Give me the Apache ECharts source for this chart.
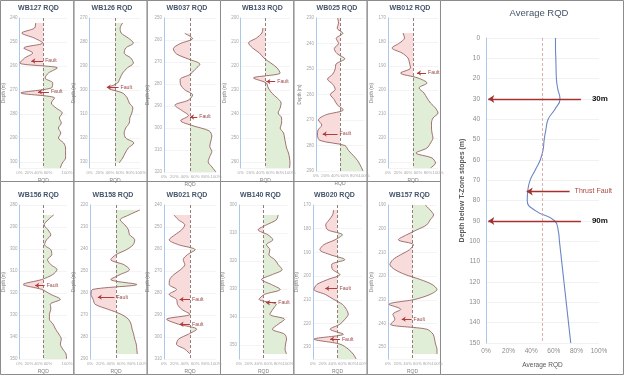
<!DOCTYPE html>
<html>
<head>
<meta charset="utf-8">
<script src="https://cdn.jsdelivr.net/npm/echarts@6/dist/echarts.min.js"></script>
<style>
html, body { margin: 0; padding: 0; background: #fff; }
#chartRqd { width: 624px; height: 375px; }
</style>
</head>
<body>
<div id="chartRqd"></div>
<script>
// ---- data ----
var wells = ['WB127', 'WB126', 'WB037', 'WB133', 'WB025', 'WB012',
             'WB156', 'WB158', 'WB021', 'WB140', 'WB020', 'WB157'];
var depthTop    = [240, 270, 250, 200, 230, 170, 280, 220, 240, 300, 170, 190];
var depthBottom = [302.5, 332.5, 320, 262.5, 290, 232.5, 350, 290, 310, 355, 235, 255];
var depthStep = 10;

// RQD (%) at evenly spaced depths from depthTop to depthBottom (null = no core)
var rqdWB127 = [null, 34, 32, 5, 31, 49, 9, 28, 11, 1, 80, 61, 54, 70, 67, 3, 74, 67, 77, 90, 84, 88, 82, 87, 82, 93, 97, 97, 97, 90, 86];
var rqdWB126 = [null, 65, 60, 62, 76, 86, 71, 68, 81, 86, 74, 65, 60, 55, 37, 65, 74, 78, 85, 83, 79, 78, 71, 68, 71, 87, 76, 70, 65, 58, null];
var rqdWB037 = [null, null, null, 40, 55, 31, 18, 24, 47, 69, 60, 50, 31, 32, 40, 55, 47, 21, 34, 47, 32, 56, 87, 92, 90, 88, 92, 88, 85, 92, 100];
var rqdWB133 = [null, null, 45, 43, 32, 16, 24, 38, 47, 61, 74, 80, 26, 52, 56, 63, 74, 82, 80, 76, 83, 83, 80, 87, 89, 91, 93, 97, 99, 100, 99];
var rqdWB025 = [45, 47, 44, 56, 42, 47, 38, 44, 60, 42, 40, 35, 24, 35, 40, 30, 38, 44, 57, 20, 5, 12, 4, 3, 8, 60, 68, 78, 87, 93, 98];
var rqdWB012 = [null, null, null, 30, 33, 23, 8, 28, 40, 43, 45, 25, 60, 78, 62, 72, 78, 85, 95, 100, 90, 87, 87, 88, 90, 85, 78, 56, 88, 95, 85];
var rqdWB156 = [null, null, 72, 60, 52, 60, 66, 57, 53, 66, 68, 59, 66, 79, 70, 47, 8, 47, 66, 86, 65, 66, 63, 63, 71, 76, 83, 88, 86, 91, 98, 99];
var rqdWB158 = [null, 96, 75, 58, 67, 74, 76, 86, 83, 70, 50, 40, 65, 76, 58, 40, 90, 5, 2, 6, 10, 35, 60, 74, 79, 81, 84, 86, 89, 90, 91, null];
var rqdWB021 = [null, null, 19, 28, 40, 34, 21, 10, 28, 60, 45, 37, 40, 32, 19, 11, 10, 24, 10, 24, 26, 34, 50, 5, 28, 63, 47, 28, 24, 40, 50, null];
var rqdWB140 = [null, null, 80, 76, 56, 39, 59, 69, 56, 63, 61, 73, 80, 88, 68, 46, 66, 84, 52, 41, 76, 69, 63, 93, 80, 68, 93, 97, 95, 94, 97, null];
var rqdWB020 = [null, 42, 40, 33, 26, 30, 60, 45, 22, 14, 35, 65, 38, 40, 55, 30, 8, 2, 25, 42, 60, 68, 72, 65, 55, 35, 62, 2, 55, 72, 82, 88];
var rqdWB157 = [76, 86, 93, 86, 79, 59, 38, 21, 52, 44, 26, 10, 4, 14, 35, 66, 90, 100, 86, 55, 2, 26, 10, 14, 5, 79, 92, 95, 97, 100, 100, null];
var rqdByWell = [rqdWB127, rqdWB126, rqdWB037, rqdWB133, rqdWB025, rqdWB012,
                 rqdWB156, rqdWB158, rqdWB021, rqdWB140, rqdWB020, rqdWB157];

// faults: [depth, arrow tail RQD, arrow head RQD]
var faultsByWell = [
    [[257.9, 50, 25], [270.8, 62, 39]],
    [[298.8, 57, 34]],
    [[295, 64, 50]],
    [[226.5, 70, 52]],
    [[275.5, 45, 14]],
    [[192.9, 76, 58]],
    [[316.6, 53, 33]],
    [[261.9, 47, 15]],
    [[282.9, 50, 30], [294.2, 50, 30]],
    [[334.9, 76, 55]],
    [[205.2, 50, 25], [226.6, 55, 35]],
    [[238.2, 48, 28]]
];

var avgDepth = [0, 5, 10, 15, 20, 25, 30, 35, 40, 45, 50, 55, 60, 65, 70, 75, 80, 85, 90, 95, 100, 105, 110, 115, 120, 125, 130, 135, 140, 145, 150];
var avgRqd = [61.5, 61.5, 61.8, 62, 62.3, 63.5, 65.5, 61, 55, 53, 51.5, 50.5, 48, 43.5, 39, 37, 36.5, 44, 61, 64, 65, 66, 67, 68, 69, 70, 71, 72, 73, 74, 75];
// [depth, arrow tail RQD, arrow head RQD, text]
var avgMarkers = [[30, 84, 2, '30m'], [75.5, 74, 36, 'Thrust Fault'], [90, 84, 2, '90m']];

// ---- layout ----
var plotBox = [ // left, top, width, height
    [16, 18, 51, 150], [89.5, 18, 51, 150], [164, 18, 52, 154], [240.7, 18, 49.3, 150], [316, 18, 48, 153], [388, 18, 50, 150],
    [16, 205, 51, 155], [90, 205, 52, 155], [164, 205, 52, 155], [239, 205, 49, 155], [313, 205, 49, 155], [388, 205, 49, 155]
];
var avgBox = [486, 38, 113, 305];
var markerLabels = [
    { fontSize: 8, fontWeight: 'bold', color: '#111', distance: 11 },
    { fontSize: 7, color: '#b0483f', distance: 5 },
    { fontSize: 8, fontWeight: 'bold', color: '#111', distance: 11 }
];

function renderRqd() {
    var dom = document.getElementById('chartRqd');
    var myChart = echarts.init(dom);
    var font = 'Liberation Sans';

    var grids = [], xAxes = [], yAxes = [], series = [], titles = [], areaIdx = [];

    wells.forEach(function (w, k) {
        var b = plotBox[k];
        var vals = rqdByWell[k];
        grids.push({ left: b[0], top: b[1], width: b[2], height: b[3] });

        xAxes.push({
            gridIndex: k, type: 'value', min: 0, max: 100, interval: 20,
            axisLine: { show: false }, axisTick: { show: false }, splitLine: { show: false },
            axisLabel: { fontSize: 4.3, color: '#a6a6a6', formatter: '{value}%', margin: 3, fontFamily: font,
                         showMinLabel: true, showMaxLabel: true, hideOverlap: false },
            name: 'RQD', nameLocation: 'middle', nameGap: 10,
            nameTextStyle: { fontSize: 5, color: '#808080', fontFamily: font }
        });
        var span = depthBottom[k] - depthTop[k];
        yAxes.push({
            gridIndex: k, type: 'value', inverse: true,
            min: depthTop[k], max: depthBottom[k], interval: depthStep,
            axisLine: { show: true, lineStyle: { color: '#a9c8ea', width: 1 } },
            axisTick: { show: false },
            axisLabel: { fontSize: 4.5, color: '#a6a6a6', margin: 2, fontFamily: font,
                         showMinLabel: true, showMaxLabel: span % depthStep === 0 },
            splitLine: { lineStyle: { color: '#ececec', width: 0.6 } },
            name: 'Depth (m)', nameLocation: 'middle', nameRotate: 90, nameGap: 11,
            nameTextStyle: { fontSize: 4.5, color: '#808080', fontFamily: font }
        });
        yAxes.push({
            gridIndex: k, type: 'category', inverse: true, boundaryGap: false, show: false,
            data: vals.map(function (v, i) { return 'd' + i; })
        });

        var pts = [];
        vals.forEach(function (v, i) { if (v !== null) pts.push([v, i]); });
        areaIdx.push(series.length);
        series.push({
            type: 'line', xAxisIndex: k, yAxisIndex: 2 * k + 1, data: pts,
            smooth: 0.3, showSymbol: false, silent: true,
            lineStyle: { color: '#8b5050', width: 0.8 },
            areaStyle: { origin: 50, opacity: 1 },
            markLine: {
                silent: true, symbol: 'none', label: { show: false },
                lineStyle: { color: '#8a6d6d', type: [3, 2], width: 0.9 },
                data: [{ xAxis: 50 }]
            }
        });
        series.push({
            type: 'lines', coordinateSystem: 'cartesian2d', xAxisIndex: k, yAxisIndex: 2 * k,
            symbol: ['none', 'arrow'], symbolSize: 4, silent: true, clip: false, z: 5,
            lineStyle: { color: '#b23b3b', width: 1, opacity: 1 },
            label: { show: true, position: 'start', formatter: 'Fault', fontSize: 5.2,
                     color: '#9c4a4a', distance: 2, fontFamily: font },
            data: faultsByWell[k].map(function (f) {
                return { coords: [[f[1], f[0]], [f[2], f[0]]] };
            })
        });

        titles.push({
            text: w + ' RQD', left: b[0] + b[2] / 2 - 3, top: b[1] < 100 ? 5 : 192,
            textAlign: 'center', padding: 0,
            textStyle: { fontSize: 7, fontWeight: 'bold', color: '#44546a', fontFamily: font }
        });
    });

    // ---- Average RQD ----
    var ga = wells.length;
    grids.push({ left: avgBox[0], top: avgBox[1], width: avgBox[2], height: avgBox[3] });
    xAxes.push({
        gridIndex: ga, type: 'value', min: 0, max: 100, interval: 20,
        axisLine: { show: false }, axisTick: { show: false }, splitLine: { show: false },
        axisLabel: { fontSize: 6.5, color: '#8c8c8c', formatter: '{value}%', margin: 5, fontFamily: font,
                     showMinLabel: true, showMaxLabel: true },
        name: 'Average RQD', nameLocation: 'middle', nameGap: 19,
        nameTextStyle: { fontSize: 6.5, color: '#595959', fontFamily: font }
    });
    yAxes.push({
        gridIndex: ga, type: 'value', inverse: true, min: 0, max: 150, interval: 10,
        axisLine: { show: true, lineStyle: { color: '#a9c8ea', width: 1 } },
        axisTick: { show: false },
        axisLabel: { fontSize: 6.5, color: '#8c8c8c', margin: 6, fontFamily: font,
                     showMinLabel: true, showMaxLabel: true },
        splitLine: { lineStyle: { color: '#ededed', width: 0.8 } },
        name: 'Depth below T-Zone stopes (m)', nameLocation: 'middle', nameRotate: 90, nameGap: 18,
        nameTextStyle: { fontSize: 7, fontWeight: 'bold', color: '#595959', fontFamily: font }
    });
    series.push({
        type: 'line', xAxisIndex: ga, yAxisIndex: yAxes.length - 1,
        data: avgDepth.map(function (d, i) { return [avgRqd[i], d]; }),
        smooth: 0.5, showSymbol: false, silent: true,
        lineStyle: { color: '#6b86c4', width: 1.1 },
        markLine: {
            silent: true, symbol: 'none', label: { show: false },
            lineStyle: { color: '#d69a9a', type: [3, 2], width: 0.8 },
            data: [{ xAxis: 50 }]
        }
    });
    series.push({
        type: 'lines', coordinateSystem: 'cartesian2d', xAxisIndex: ga, yAxisIndex: yAxes.length - 1,
        symbol: ['none', 'arrow'], symbolSize: 6, silent: true, clip: false, z: 5,
        lineStyle: { color: '#a3312f', width: 1.3, opacity: 1 },
        label: { show: true, position: 'start', fontFamily: font },
        data: avgMarkers.map(function (m, i) {
            return {
                name: m[3], coords: [[m[1], m[0]], [m[2], m[0]]],
                label: Object.assign({ formatter: m[3] }, markerLabels[i])
            };
        })
    });
    titles.push({
        text: 'Average RQD', left: 539, top: 8, textAlign: 'center', padding: 0,
        textStyle: { fontSize: 9.5, fontWeight: 'normal', color: '#44546a', fontFamily: font }
    });

    // panel frames
    var frames = [];
    for (var i = 0; i < 6; i++) {
        frames.push({ type: 'rect', silent: true,
            shape: { x: 73.33 * i + 0.5, y: 0.5, width: 73.33, height: 181 },
            style: { fill: 'none', stroke: '#8c8c8c', lineWidth: 1 } });
        frames.push({ type: 'rect', silent: true,
            shape: { x: 73.33 * i + 0.5, y: 181.5, width: 73.33, height: 193 },
            style: { fill: 'none', stroke: '#8c8c8c', lineWidth: 1 } });
    }
    frames.push({ type: 'rect', silent: true,
        shape: { x: 440.5, y: 0.5, width: 183, height: 374 },
        style: { fill: 'none', stroke: '#8c8c8c', lineWidth: 1 } });

    var option = {
        backgroundColor: '#FFFFFF',
        animation: false,
        title: titles,
        grid: grids,
        xAxis: xAxes,
        yAxis: yAxes,
        // finite pieces so the line view gets real colour stops for the fill
        visualMap: {
            type: 'piecewise', show: false, dimension: 0, seriesIndex: areaIdx,
            pieces: [{ min: -10, max: 50, color: '#f8dcdc' }, { min: 50, max: 110, color: '#e1eed7' }]
        },
        graphic: frames,
        series: series
    };
    myChart.setOption(option);
}
renderRqd();
</script>
</body>
</html>
